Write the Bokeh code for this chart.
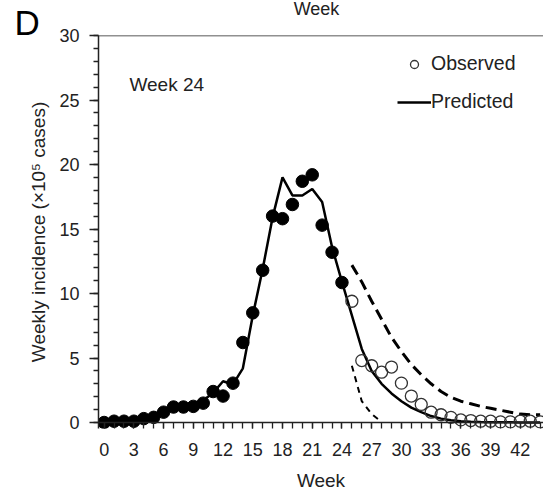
from bokeh.plotting import figure
from bokeh.models import (FixedTicker, Range1d, Span, Label, Legend, LegendItem)
from bokeh.embed import file_html
from bokeh.resources import INLINE

# Weekly incidence (x10^5 cases), forecast made at week 24
weeks_fitted = list(range(0, 25))
observed_fitted = [0.0, 0.1, 0.1, 0.1, 0.3, 0.4, 0.8, 1.2, 1.2, 1.25, 1.5, 2.4, 2.05,
                   3.05, 6.2, 8.5, 11.8, 16.0, 15.8, 16.9, 18.7, 19.2, 15.3, 13.2, 10.85]

weeks_future = list(range(25, 45))
observed_future = [9.4, 4.8, 4.4, 3.9, 4.3, 3.05, 2.05, 1.4, 0.8, 0.6, 0.4, 0.2, 0.15,
                   0.1, 0.1, 0.05, 0.05, 0.1, 0.1, 0.05]

weeks_pred = list(range(0, 45))
predicted = [0.05, 0.1, 0.1, 0.15, 0.25, 0.45, 0.8, 1.1, 1.35, 1.5, 1.7, 2.3, 3.2, 2.95,
             4.2, 8.3, 11.9, 15.9, 19.0, 17.6, 17.6, 18.1, 17.1, 13.6, 10.9, 8.3, 5.7,
             4.0, 3.0, 2.25, 1.65, 1.15, 0.8, 0.5, 0.3, 0.17, 0.1, 0.05, 0.03, 0.02,
             0.01, 0.01, 0.0, 0.0, 0.0]

weeks_upper = list(range(25, 45))
upper_bound = [12.2, 10.9, 9.4, 8.0, 6.6, 5.5, 4.5, 3.7, 3.0, 2.4, 1.95, 1.65, 1.45,
               1.25, 1.1, 0.95, 0.8, 0.65, 0.6, 0.6]

weeks_lower = [25, 26, 27, 28]
lower_bound = [4.4, 1.65, 0.65, 0.05]

x_ticks = list(range(0, 43, 3))
y_ticks = list(range(0, 31, 5))

FONT = "Liberation Sans"
INK = "#222222"

p = figure(width=543, height=496, output_backend="svg", toolbar_location=None,
           x_range=Range1d(-0.57, 44.34), y_range=Range1d(-0.465, 30),
           min_border_left=97, min_border_right=0, min_border_top=35,
           min_border_bottom=68)
p.outline_line_color = None
p.xgrid.visible = False
p.ygrid.visible = False
p.background_fill_color = "white"
p.border_fill_color = "white"

# x axis: ticks hang from the zero line (drawn as a span), labels below
xa = p.xaxis[0]
xa.ticker = FixedTicker(ticks=x_ticks, minor_ticks=list(range(0, 45)))
xa.axis_line_color = None
xa.major_tick_in = 6
xa.major_tick_out = 0
xa.minor_tick_in = 6
xa.minor_tick_out = 0
xa.major_label_standoff = 14
xa.major_label_text_font = FONT
xa.major_label_text_font_size = "18px"
xa.major_label_text_color = INK
xa.major_tick_line_color = INK
xa.minor_tick_line_color = INK
xa.major_tick_line_width = 1.3
xa.minor_tick_line_width = 1.3
xa.axis_label = "Week"
xa.axis_label_text_font = FONT
xa.axis_label_text_font_size = "19px"
xa.axis_label_text_font_style = "normal"
xa.axis_label_text_color = INK
xa.axis_label_standoff = 11

ya = p.yaxis[0]
ya.ticker = FixedTicker(ticks=y_ticks, minor_ticks=list(range(0, 31)))
ya.major_tick_in = 0
ya.major_tick_out = 9
ya.minor_tick_in = 0
ya.minor_tick_out = 5
ya.major_label_standoff = 10
ya.major_label_text_font = FONT
ya.major_label_text_font_size = "18px"
ya.major_label_text_color = INK
ya.axis_line_width = 1.5
ya.axis_line_color = INK
ya.major_tick_line_color = INK
ya.minor_tick_line_color = INK
ya.major_tick_line_width = 1.3
ya.minor_tick_line_width = 1.3
ya.axis_label = "Weekly incidence (\u00d710\u2075 cases)"
ya.axis_label_text_font = FONT
ya.axis_label_text_font_size = "19px"
ya.axis_label_text_font_style = "normal"
ya.axis_label_text_color = INK
ya.axis_label_standoff = 7

p.add_layout(Span(location=30, dimension="width", line_color=INK, line_width=1.5))
p.add_layout(Span(location=0, dimension="width", line_color=INK, line_width=1.5))

# forecast bounds
p.line(weeks_upper, upper_bound, line_color="black", line_width=3, line_dash="11 6")
p.line(weeks_lower, lower_bound, line_color="black", line_width=2, line_dash="6 5")

# model prediction
pred = p.line(weeks_pred, predicted, line_color="black", line_width=2.5)

# observed data
p.scatter(weeks_fitted, observed_fitted, size=12.5, marker="circle",
          fill_color="black", line_color="black")
obs = p.scatter(weeks_future, observed_future, size=12, marker="circle",
                fill_color="white", fill_alpha=0.0, line_color="#333333", line_width=1.3)

legend = Legend(items=[LegendItem(label="Observed", renderers=[obs]),
                       LegendItem(label="Predicted", renderers=[pred])],
                location=(299, 315), orientation="vertical",
                glyph_width=34, glyph_height=20, label_height=20, label_standoff=0,
                spacing=15, padding=0, margin=0, border_line_color=None,
                background_fill_alpha=0.0, label_text_font=FONT,
                label_text_font_size="19.5px", label_text_color=INK)
p.add_layout(legend, "center")

p.add_layout(Label(x=2.55, y=26.2, text="Week 24", text_font=FONT,
                   text_font_size="19px", text_color=INK,
                   text_baseline="middle"))

# axis title of the panel above, along the top edge
p.add_layout(Label(x=218, y=27, x_units="screen", y_units="screen", text="Week",
                   text_font=FONT, text_font_size="18px", text_color=INK,
                   text_align="center", text_baseline="alphabetic"), "above")
# panel letter
p.add_layout(Label(x=14, y=406, x_units="screen", y_units="screen", text="D",
                   text_font=FONT, text_font_size="35px", text_color="black",
                   text_baseline="alphabetic"), "left")

open("out.html", "w").write(file_html(p, INLINE))
